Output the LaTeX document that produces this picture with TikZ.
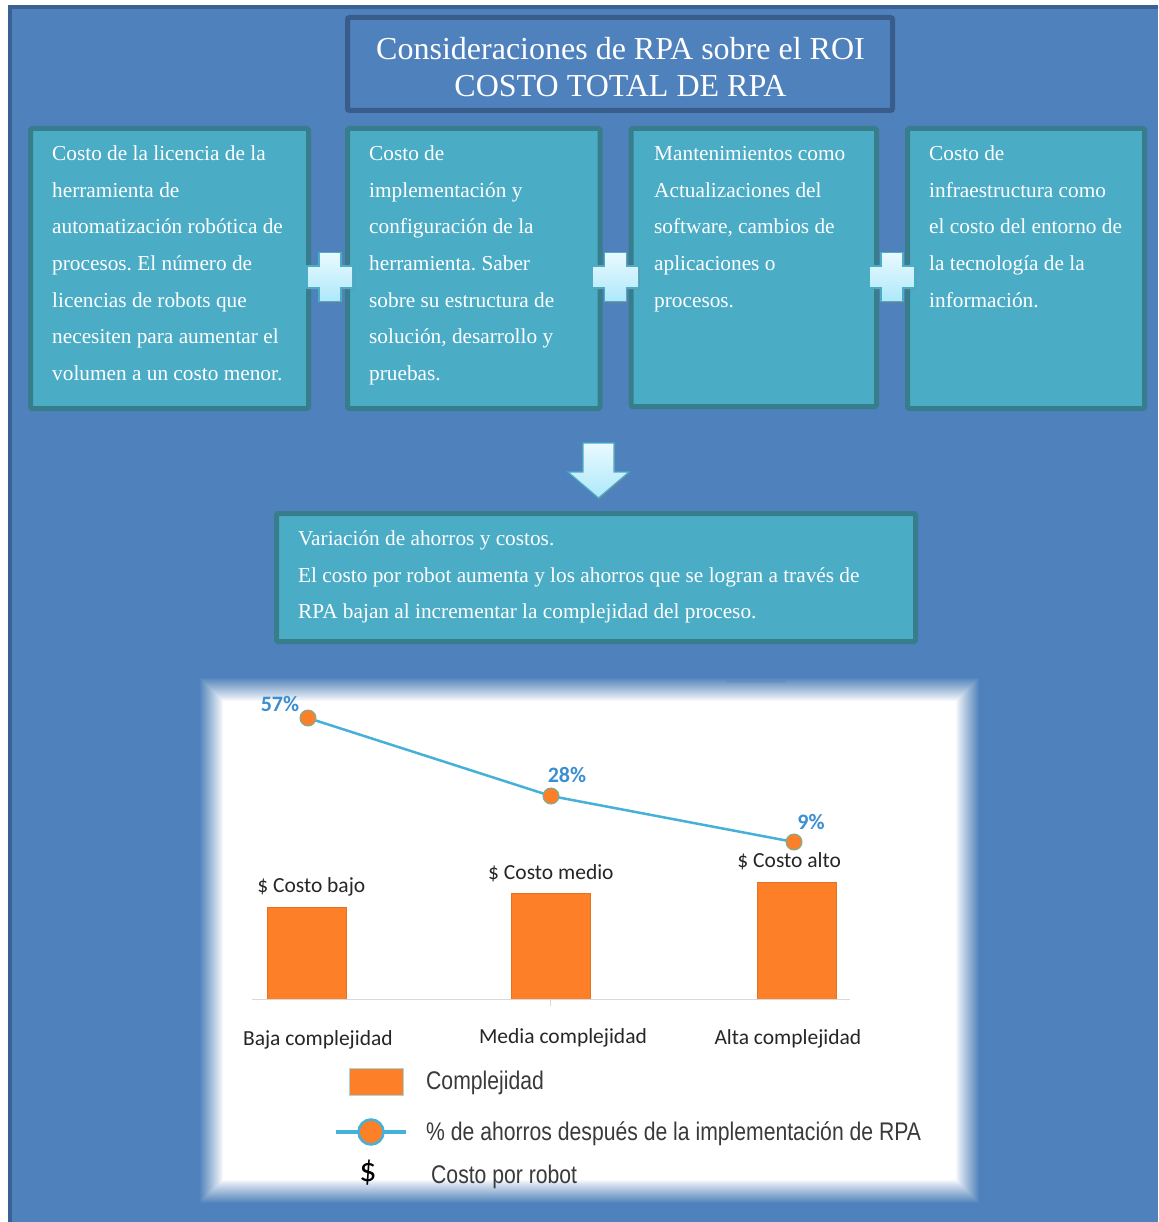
\documentclass[tikz,border=0pt]{standalone}
\usepackage{fontspec}
\setmainfont{Liberation Serif}
\newfontfamily\chartfont{Carlito}
\newfontfamily\legendfont[FakeStretch=0.83]{Liberation Sans}
\usetikzlibrary{shadows}

\definecolor{bgblue}{HTML}{4F81BD}
\definecolor{bgedge}{HTML}{3A6194}
\definecolor{titleedge}{HTML}{385D8A}
\definecolor{cellfill}{HTML}{4BACC6}
\definecolor{celledge}{HTML}{377D8C}
\definecolor{barorange}{HTML}{FD7F27}
\definecolor{chartline}{HTML}{45B1D8}
\definecolor{markeredge}{HTML}{6FB3A0}
\definecolor{pctblue}{HTML}{3B8ED0}
\definecolor{charttext}{HTML}{262626}
\definecolor{legendtext}{HTML}{3A3A3A}
\definecolor{axisgray}{HTML}{D9D9D9}
\definecolor{lighttop}{HTML}{EAFAFF}
\definecolor{lightbottom}{HTML}{ADE8FA}
\definecolor{smudge}{HTML}{3F6FA8}

% multi-line white text, first baseline at the node's base anchor
\newcommand\celltext[2]{\parbox[t]{#1}{\raggedright\frenchspacing\fontsize{21.3}{36.7}\selectfont #2}}

\tikzset{
  cell/.style={draw=celledge, line width=5pt, fill=cellfill, rounded corners=1.5pt},
  btxt/.style={anchor=base west, inner sep=0pt, text=white},
  bar/.style={fill=barorange, draw=barorange!90!black, line width=0.4pt},
  marker/.style={circle, fill=barorange, draw=markeredge, line width=1pt,
                 minimum size=16pt, inner sep=0pt},
  pct/.style={font=\chartfont\bfseries\fontsize{22}{26}\selectfont, text=pctblue,
              anchor=base, inner sep=0pt},
  clabel/.style={font=\chartfont\fontsize{21.5}{26}\selectfont, text=charttext,
                 anchor=base, inner sep=0pt},
  ltext/.style={font=\legendfont\fontsize{25.5}{30}\selectfont, text=legendtext,
                anchor=base west, inner sep=0pt},
  lightshape/.style={draw=cellfill, line width=1.2pt, top color=lighttop,
                     bottom color=lightbottom,
                     drop shadow={opacity=0.35, shadow xshift=1.5pt, shadow yshift=-2pt}},
}

\begin{document}
\begin{tikzpicture}[x=1pt, y=-1pt]
\useasboundingbox (0,0) rectangle (1158,1222);
\fill[white] (0,0) rectangle (1158,1222);

% page background
\fill[bgblue] (8,5) rectangle (1158,1222);
\draw[bgedge, line width=4pt] (10,1222) -- (10,7) -- (1158,7);

% title
\draw[draw=titleedge, line width=5pt, fill=bgblue, rounded corners=2pt]
  (347.5,17.5) rectangle (892.5,110.5);
\node[anchor=base, inner sep=0pt, text=white] (title) at (620.5,59.6)
  {\parbox[t]{600pt}{\centering\fontsize{32}{37}\selectfont
   Consideraciones de RPA sobre el ROI\\COSTO TOTAL DE RPA}};

% four cost boxes
\draw[cell] (30.5,128.5) rectangle (308.5,408.5);
\draw[cell] (347.5,128.5) rectangle (600,408.5);
\draw[cell] (631,128.5) rectangle (876.5,406.5);
\draw[cell] (907.5,128.5) rectangle (1144.5,408.5);

\node[btxt] (c1) at (52,160.5) {\celltext{260pt}{Costo de la licencia de la\\
  herramienta de\\ automatización robótica de\\ procesos. El número de\\
  licencias de robots que\\ necesiten para aumentar el\\ volumen a un costo menor.}};
\node[btxt] (c2) at (369,160.5) {\celltext{230pt}{Costo de\\ implementación y\\
  configuración de la\\ herramienta. Saber\\ sobre su estructura de\\
  solución, desarrollo y\\ pruebas.}};
\node[btxt] (c3) at (654,160.5) {\celltext{220pt}{Mantenimientos como\\
  Actualizaciones del\\ software, cambios de\\ aplicaciones o\\ procesos.}};
\node[btxt] (c4) at (929,160.5) {\celltext{215pt}{Costo de\\ infraestructura como\\
  el costo del entorno de\\ la tecnología de la\\ información.}};

% plus signs between the boxes
\foreach \cx in {330,615.5,892}
  \path[lightshape] (\cx-11,252.5) -- ++(22,0) -- ++(0,13.5) -- ++(12,0) -- ++(0,22)
    -- ++(-12,0) -- ++(0,13.5) -- ++(-22,0) -- ++(0,-13.5) -- ++(-12,0) -- ++(0,-22)
    -- ++(12,0) -- cycle;

% down arrow
\path[lightshape] (583,443) -- (614,443) -- (614,472) -- (629,472) -- (598.5,498)
  -- (568,472) -- (583,472) -- cycle;

% result box
\draw[cell] (276.5,513.5) rectangle (915.5,641.5);
\node[btxt] (res) at (298,545.5) {\celltext{600pt}{Variación de ahorros y costos.\\
  El costo por robot aumenta y los ahorros que se logran a través de\\
  RPA bajan al incrementar la complejidad del proceso.}};

% chart panel with soft edges (layer n has opacity 1/(25-n): linear ramp)
\draw[smudge, line width=3pt, opacity=0.3] (727,681) -- (785,681);
\foreach \n in {1,...,24} {
  \pgfmathsetmacro\op{1/(25-\n)}
  \pgfmathsetmacro\ex{13-\n}
  \fill[white, opacity=\op] (212-\ex,690-\ex) rectangle (967+\ex,1191+\ex);
}

% bars and axis
\fill[bar] (267,907) rectangle (346.5,999);
\fill[bar] (511.5,893) rectangle (590,999);
\fill[bar] (757,882) rectangle (836,999);
\draw[axisgray, line width=1.5pt] (252,999.5) -- (850,999.5);
\draw[axisgray, line width=1pt] (550,1000) -- (550,1006);

\node[clabel] (k1) at (311.3,892) {\$ Costo bajo};
\node[clabel] (k2) at (550.9,879.6) {\$ Costo medio};
\node[clabel] (k3) at (789.2,867.6) {\$ Costo alto};
\node[clabel] (x1) at (317.9,1045) {Baja complejidad};
\node[clabel] (x2) at (563,1043.5) {Media complejidad};
\node[clabel] (x3) at (787.9,1044) {Alta complejidad};

% savings line
\coordinate (m1) at (308,718);
\coordinate (m2) at (551,796);
\coordinate (m3) at (794,842);
\draw[chartline, line width=2.5pt] (m1) -- (m2) -- (m3);
\node[marker] (d1) at (m1) {};
\node[marker] (d2) at (m2) {};
\node[marker] (d3) at (m3) {};
\node[pct] (p1) at (280,711) {57\%};
\node[pct] (p2) at (567,782) {28\%};
\node[pct] (p3) at (811,829) {9\%};

% legend
\draw[fill=barorange, draw=chartline!50, line width=1pt] (349,1068) rectangle (403,1095);
\node[ltext] (l1) at (426,1089) {Complejidad};
\coordinate (la) at (336,1132);
\coordinate (lb) at (406,1132);
\draw[chartline, line width=3.5pt] (la) -- (lb);
\node[circle, fill=barorange, draw=chartline, line width=2.5pt, minimum size=25pt,
      inner sep=0pt] (lm) at (371,1132) {};
\node[ltext] (l2) at (426,1140) {\% de ahorros después de la implementación de RPA};
\node[anchor=base, inner sep=0pt, text=black,
      font=\chartfont\fontsize{34}{38}\selectfont] (ld) at (368,1181) {\$};
\node[ltext] (l3) at (431,1183) {Costo por robot};
\end{tikzpicture}
\end{document}
